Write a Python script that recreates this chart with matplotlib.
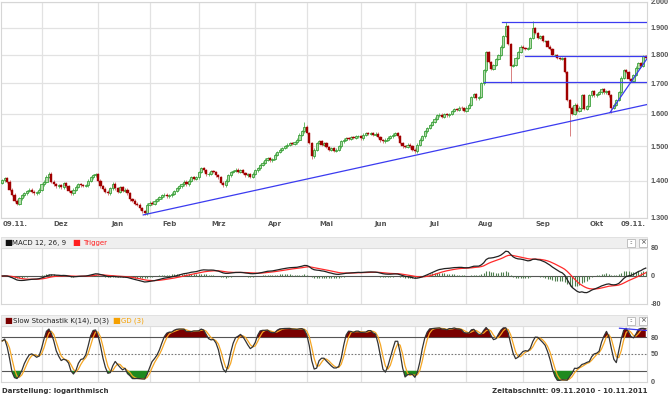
import numpy as np
import pandas as pd
import matplotlib
matplotlib.use("Agg")
import matplotlib.pyplot as plt
from matplotlib.patches import Rectangle

close = [1402, 1407, 1398, 1376, 1362, 1345, 1338, 1352, 1360, 1366,
         1372, 1376, 1370, 1366, 1368, 1375, 1390, 1397, 1412, 1420,
         1398, 1390, 1385, 1388, 1382, 1393, 1385, 1372, 1366, 1375,
         1384, 1390, 1388, 1386, 1388, 1400, 1410, 1415, 1418, 1400,
         1385, 1378, 1370, 1366, 1380, 1392, 1380, 1370, 1383, 1372,
         1375, 1366, 1350, 1345, 1338, 1335, 1326, 1318, 1313, 1335,
         1340, 1338, 1345, 1350, 1355, 1360, 1362, 1357, 1360, 1365,
         1372, 1380, 1385, 1390, 1398, 1390, 1400, 1410, 1405, 1410,
         1425, 1436, 1430, 1418, 1420, 1428, 1425, 1415, 1410, 1395,
         1388, 1400, 1415, 1425, 1428, 1432, 1426, 1430, 1422, 1415,
         1418, 1412, 1420, 1430, 1435, 1445, 1452, 1460, 1465, 1458,
         1462, 1475, 1483, 1490, 1495, 1500, 1505, 1510, 1508, 1512,
         1520, 1535, 1545, 1560, 1540, 1510, 1470, 1490, 1510, 1515,
         1505, 1510, 1498, 1490, 1495, 1486, 1490, 1500, 1515, 1520,
         1525, 1522, 1528, 1526, 1530, 1530, 1524, 1535, 1540, 1537,
         1540, 1535, 1538, 1528, 1518, 1515, 1520, 1526, 1530, 1535,
         1540, 1530, 1510, 1500, 1498, 1505, 1500, 1490, 1485, 1505,
         1520, 1530, 1545, 1555, 1565, 1575, 1585, 1595, 1598, 1590,
         1600, 1595, 1600, 1610, 1615, 1612, 1620, 1618, 1610, 1620,
         1630, 1655, 1665, 1650, 1655, 1700, 1745, 1810, 1775, 1750,
         1765, 1785, 1800, 1830, 1870, 1905, 1840, 1760, 1765, 1790,
         1810, 1830, 1825, 1820, 1825, 1860, 1900, 1880, 1860, 1870,
         1850, 1850, 1830, 1820, 1800, 1800, 1790, 1785, 1790, 1740,
         1645, 1620, 1600, 1630, 1610, 1620, 1660, 1615, 1625, 1660,
         1675, 1660, 1665, 1670, 1680, 1670, 1675, 1660, 1620, 1630,
         1645, 1670, 1720, 1745, 1740, 1715, 1710, 1730, 1755, 1770,
         1760, 1795, 1790]
first_open = 1395
# auffaellige Dochte (Index: Kurs)
high_extra = {19: 1425, 123: 1575, 205: 1922, 216: 1925}
low_extra = {58: 1308, 126: 1462, 207: 1702, 231: 1532, 248: 1604}

months = ["Dez", "Jan", "Feb", "Mrz", "Apr", "Mai", "Jun", "Jul", "Aug", "Sep", "Okt"]
edge_label = "09.11."
price_ticks = [1300, 1400, 1500, 1600, 1700, 1800, 1900, 2000]

# eingezeichnete Trendlinien (Index, Kurs)
trend_x = [[57.4, 262.4], [247.4, 262.4], [203.4, 262.4], [213, 262.4], [196, 262.4]]
trend_y = [[1308, 1630], [1604, 1785], [1922, 1922], [1796, 1796], [1705, 1705]]
stoch_trend_x = [251.3, 262.4]
stoch_trend_y = [96, 92]

W, H = 670, 396
fig = plt.figure(figsize=(W / 100, H / 100), dpi=100)

def box(x0, y0, x1, y1):
    return [x0 / W, 1 - y1 / H, (x1 - x0) / W, (y1 - y0) / H]

def fig_rect(x0, y0, x1, y1, **kw):
    fig.add_artist(Rectangle((x0 / W, 1 - y1 / H), (x1 - x0) / W, (y1 - y0) / H,
                             transform=fig.transFigure, **kw))

def fig_text(x, y, s, **kw):
    fig.text(x / W, 1 - y / H, s, **kw)

# Daten
c = np.array(close, float)
o = np.r_[first_open, c[:-1]]
wick = 4
h = np.maximum(o, c) + wick
l = np.minimum(o, c) - wick
for k, v in high_extra.items():
    h[k] = v
for k, v in low_extra.items():
    l[k] = v
x = np.arange(len(c))
n = len(c)
dates = pd.bdate_range("2010-11-09", periods=n)
mstart = [i for i in range(1, n) if dates[i].month != dates[i - 1].month]

s = pd.Series(c)
ema12 = s.ewm(span=12, adjust=False).mean()
ema26 = s.ewm(span=26, adjust=False).mean()
macd = ema12 - ema26
trig = macd.ewm(span=9, adjust=False).mean()
hist = macd - trig

ll = pd.Series(l).rolling(14, min_periods=1).min()
hh = pd.Series(h).rolling(14, min_periods=1).max()
fast_k = 100 * (s - ll) / (hh - ll)
slow_k = fast_k.rolling(3, min_periods=1).mean()
slow_d = slow_k.rolling(3, min_periods=1).mean()

grid_c = "#e2e2e2"
lab_c = "#555555"
tick_font = dict(family="Liberation Sans", weight="bold", size=5.2)

def style(ax):
    ax.set_xlim(-0.5, n - 0.5)
    for sp in ax.spines.values():
        sp.set_color("#d6d6d6")
        sp.set_linewidth(0.8)
    ax.set_xticks([])
    ax.yaxis.tick_right()
    ax.tick_params(axis="y", length=0, pad=2.5, labelcolor=lab_c)
    for m in mstart:
        ax.axvline(m, color=grid_c, lw=0.9, zorder=0)

# Hauptchart
ax = fig.add_axes(box(1, 2, 647, 218))
style(ax)
ax.set_yscale("log")
ax.set_ylim(1300, 2000)
ax.yaxis.set_minor_locator(matplotlib.ticker.NullLocator())
ax.set_yticks(price_ticks)
ax.set_yticklabels([f"{v:,}".replace(",", ".") for v in price_ticks], fontdict=tick_font)
for v in price_ticks:
    ax.axhline(v, color=grid_c, lw=0.9, zorder=0)

up = c >= o
ax.vlines(x[up], l[up], h[up], color="#6cbf6c", lw=0.7, zorder=2)
ax.vlines(x[~up], l[~up], h[~up], color="#d98080", lw=0.7, zorder=2)
ax.bar(x[up], (c - o)[up], bottom=o[up], width=0.9, color="#b3dcab",
       edgecolor="#2e9a2e", lw=0.55, zorder=3)
ax.bar(x[~up], (o - c)[~up], bottom=c[~up], width=0.9, color="#a00000",
       edgecolor="#a00000", lw=0.3, zorder=3)

for tx, ty in zip(trend_x, trend_y):
    ax.plot(tx, ty, color="#3b3bf0", lw=0.9, zorder=4)

tr = ax.get_xaxis_transform()
for m, name in zip(mstart[:-1], months):
    ax.text(m + 8, -0.012, name, transform=tr, ha="center", va="top",
            fontsize=5, fontweight="bold", color=lab_c)
ax.text(0, -0.012, edge_label, transform=tr, ha="left", va="top",
        fontsize=5, fontweight="bold", color=lab_c)
ax.text(n - 1, -0.012, edge_label, transform=tr, ha="right", va="top",
        fontsize=5, fontweight="bold", color=lab_c)

# MACD
fig_rect(1, 237, 647, 248, facecolor="#efefef", edgecolor="#dddddd", lw=0.6)
am = fig.add_axes(box(1, 248, 647, 304))
style(am)
am.set_ylim(-80, 80)
am.set_yticks([80, 0, -80])
am.set_yticklabels(["80", "0", "-80"], fontdict=tick_font)
am.axhline(0, color="#555555", lw=0.8, zorder=1)
am.vlines(x, 0, hist, color="#4f7f4f", lw=0.8, zorder=2)
am.plot(x, trig, color="#ff2a2a", lw=0.9, zorder=3)
am.plot(x, macd, color="#222222", lw=0.9, zorder=4)

# Stochastik
fig_rect(1, 315, 647, 326, facecolor="#efefef", edgecolor="#dddddd", lw=0.6)
ast = fig.add_axes(box(1, 326, 647, 382))
style(ast)
ast.set_ylim(0, 100)
ast.set_yticks([80, 50, 0])
ast.set_yticklabels(["80", "50", "0"], fontdict=tick_font)
ast.axhline(80, color="#555555", lw=0.8, zorder=1)
ast.axhline(20, color="#555555", lw=0.8, zorder=1)
ast.axhline(50, color="#777777", lw=0.8, ls=(0, (1.5, 1.5)), zorder=1)
ast.fill_between(x, slow_k, 80, where=slow_k > 80, interpolate=True,
                 color="#7a0000", lw=0, zorder=2)
ast.fill_between(x, slow_k, 20, where=slow_k < 20, interpolate=True,
                 color="#1f8a1f", lw=0, zorder=2)
ast.plot(x, slow_d, color="#f5a623", lw=0.9, zorder=3)
ast.plot(x, slow_k, color="#333333", lw=0.9, zorder=4)
ast.plot(stoch_trend_x, stoch_trend_y, color="#3b3bf0", lw=0.9, zorder=5)

# Kopfzeilen
fig_text(4, 243, "\u25a0", fontsize=6, color="#111111", va="center")
fig_text(12, 243, "MACD 12, 26, 9", fontsize=5, color="#222222", va="center")
fig_text(72, 243, "\u25a0", fontsize=6, color="#ff2020", va="center")
fig_text(83, 243, "Trigger", fontsize=5, color="#ff2020", va="center")
fig_text(4, 321, "\u25a0", fontsize=6, color="#7a0000", va="center")
fig_text(13, 321, "Slow Stochastik K(14), D(3)", fontsize=5, color="#222222", va="center")
fig_text(112, 321, "\u25a0", fontsize=6, color="#f5a000", va="center")
fig_text(121, 321, "GD (3)", fontsize=5, color="#f5a000", va="center")
for yy in (238.5, 316.5):
    fig_rect(627, yy, 635, yy + 8, facecolor="white", edgecolor="#aaaaaa", lw=0.5)
    fig_rect(639, yy, 647, yy + 8, facecolor="white", edgecolor="#aaaaaa", lw=0.5)
    fig_text(631, yy + 4, "::", fontsize=4, color="#444444", ha="center", va="center")
    fig_text(643, yy + 4, "\u00d7", fontsize=5, color="#444444", ha="center", va="center")

# Fusszeile
fig_text(2, 391, "Darstellung: logarithmisch", fontsize=5, fontweight="bold",
         color="#333333", va="center")
fig_text(647, 391, "Zeitabschnitt: 09.11.2010 - 10.11.2011", fontsize=5,
         fontweight="bold", color="#333333", ha="right", va="center")

fig.savefig("out.png", dpi=100)
